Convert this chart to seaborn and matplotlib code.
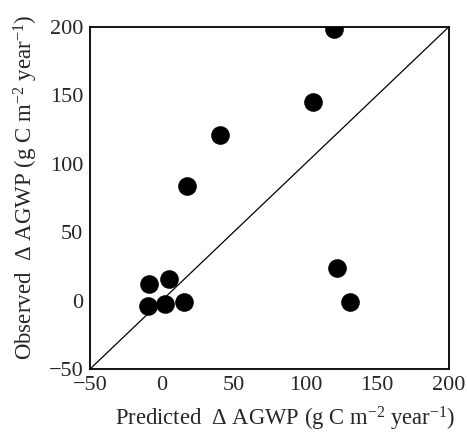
import pandas as pd
import matplotlib
matplotlib.use("Agg")
import matplotlib.pyplot as plt
import seaborn as sns

# values
predicted = [120, 105.5, 40.8, 17.7, 121.8, 131, -9, 5.2, -9.7, 2.4, 15.2]
observed = [198.5, 145.4, 121.3, 83.8, 23.8, -1, 11.9, 15.8, -4, -2.7, -1]
ticks = [-50, 0, 50, 100, 150, 200]

df = pd.DataFrame({"Predicted": predicted, "Observed": observed})

sns.set_style("white")
plt.rcParams["font.family"] = ["Liberation Serif", "DejaVu Serif"]
plt.rcParams["mathtext.fontset"] = "custom"
plt.rcParams["mathtext.rm"] = "Liberation Serif"
plt.rcParams["mathtext.it"] = "Liberation Serif:italic"

fig = plt.figure(figsize=(4.67, 4.34), dpi=100)
ax = fig.add_axes([0.193, 0.150, 0.768, 0.788])

# 1:1 line
ax.plot([-50, 200], [-50, 200], color="black", lw=0.9, zorder=1)

sns.scatterplot(data=df, x="Predicted", y="Observed", ax=ax,
                color="black", s=180, edgecolor="black", linewidth=0, zorder=3)

ax.set_xlim(-50, 200)
ax.set_ylim(-50, 200)
ax.set_xticks(ticks)
ax.set_yticks(ticks)
ax.tick_params(direction="in", length=4, width=0.6, color="#888888",
               labelsize=16, top=False, right=False)
ax.tick_params(axis="x", pad=5)
ax.tick_params(axis="y", pad=5)
for s in ax.spines.values():
    s.set_color("black")
    s.set_linewidth(1.3)

ax.set_xlabel(r"Predicted  $\Delta$ AGWP (g C m$^{-2}$ year$^{-1}$)", fontsize=16.3)
ax.set_ylabel(r"Observed  $\Delta$ AGWP (g C m$^{-2}$ year$^{-1}$)", fontsize=16.5)
ax.xaxis.set_label_coords(0.543, -0.105)
ax.yaxis.set_label_coords(-0.14, 0.53)

fig.savefig("out.png", dpi=100)
